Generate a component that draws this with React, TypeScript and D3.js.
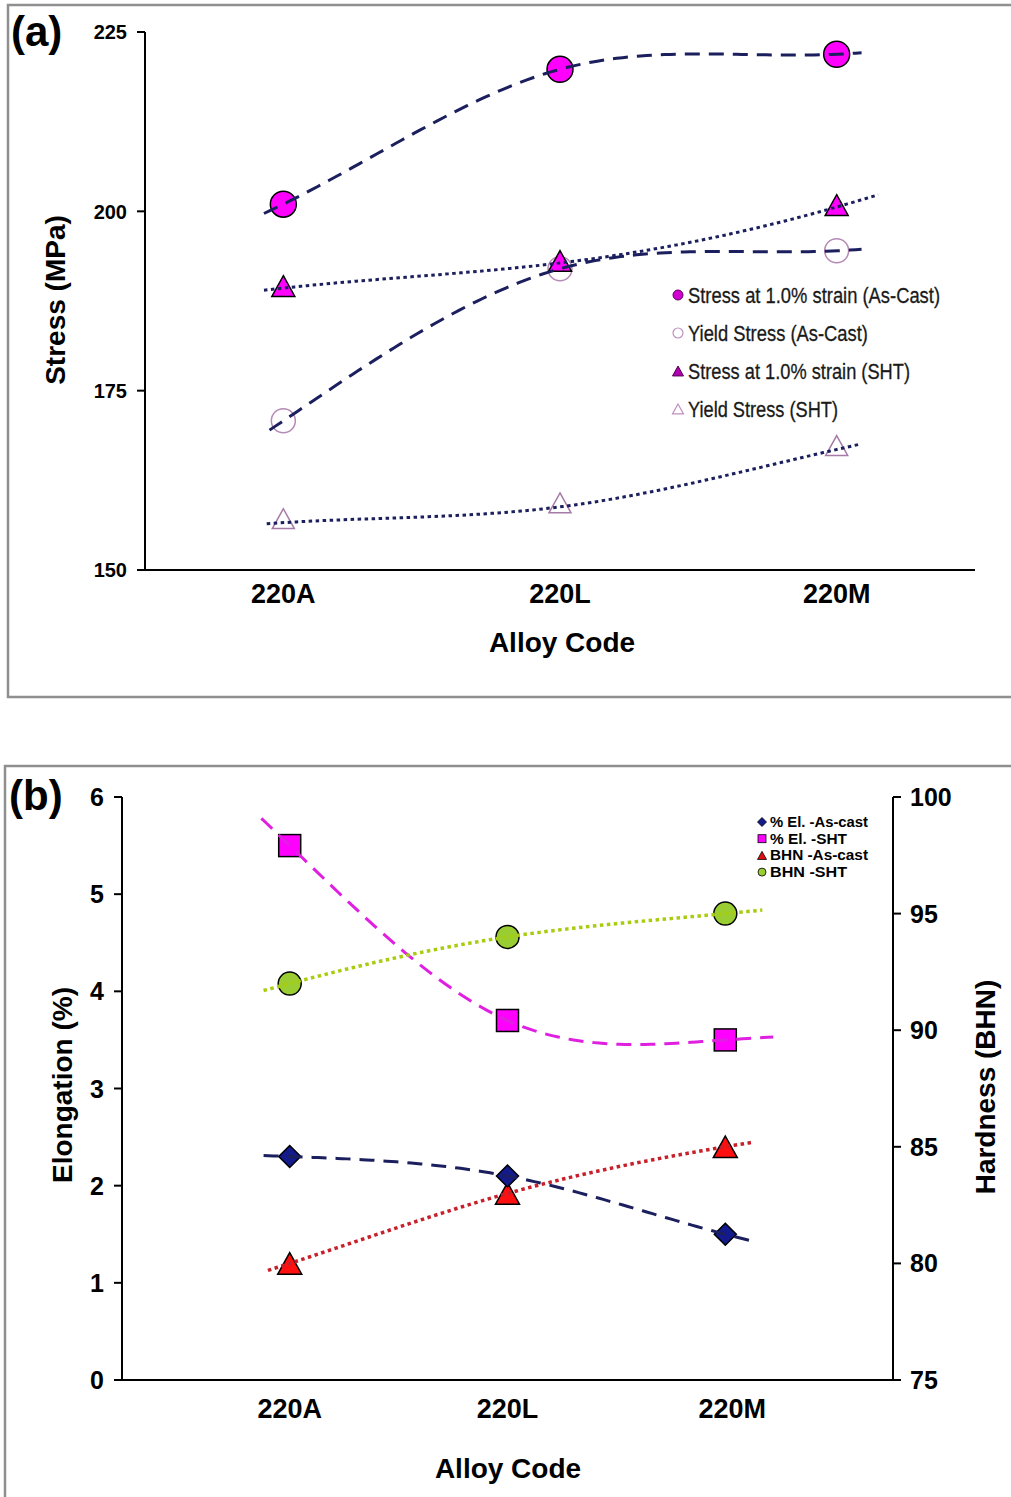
import React from "react";
import * as d3 from "d3";

const categories = ["220A", "220L", "220M"];

// Panel (a) values (MPa)
const stressAsCast = [201, 219.8, 221.9];
const yieldAsCast = [170.8, 192, 194.5];
const stressSHT = [189.3, 192.8, 200.6];
const yieldSHT = [156.6, 158.8, 166.8];
const stressTicks = [150, 175, 200, 225];

// Panel (b) values
const elongAsCast = [2.3, 2.1, 1.5];
const elongSHT = [5.5, 3.7, 3.5];
const bhnAsCast = [80, 83, 85];
const bhnSHT = [92, 94, 95];
const elongTicks = [0, 1, 2, 3, 4, 5, 6];
const hardTicks = [75, 80, 85, 90, 95, 100];

// trendline ends: [startIndex, startValue, endIndex, endValue]
const trendEndsA = [
  [-0.07, 199.7, 2.09, 222.1],
  [-0.05, 169.5, 2.09, 194.7],
  [-0.07, 189.0, 2.15, 202.3],
  [-0.06, 156.45, 2.08, 167.5],
];
const trendEndsB = [
  [-0.12, 2.31, 2.14, 1.42],
  [-0.13, 5.78, 2.22, 3.53],
  [-0.1, 79.7, 2.13, 85.2],
  [-0.12, 91.7, 2.17, 95.15],
];

const legendA = [
  "Stress at 1.0%  strain (As-Cast)",
  "Yield Stress (As-Cast)",
  "Stress at 1.0%  strain (SHT)",
  "Yield Stress (SHT)",
];
const legendB = ["% El. -As-cast", "% El. -SHT", "BHN -As-cast", "BHN -SHT"];

const FONT = "'Liberation Sans', Arial, sans-serif";
const NAVY = "#1b1f5e";

// natural cubic spline y(x) through knots (proper spacing), returns evaluator
function naturalSpline(xs: number[], ys: number[]) {
  const n = xs.length - 1;
  const h = d3.range(n).map((i) => xs[i + 1] - xs[i]);
  const M = new Array(n + 1).fill(0);
  const a: number[] = [], b: number[] = [], c: number[] = [], r: number[] = [];
  for (let i = 1; i < n; i++) {
    a.push(h[i - 1]);
    b.push(2 * (h[i - 1] + h[i]));
    c.push(h[i]);
    r.push(6 * ((ys[i + 1] - ys[i]) / h[i] - (ys[i] - ys[i - 1]) / h[i - 1]));
  }
  const m = b.length;
  for (let i = 1; i < m; i++) {
    const w = a[i] / b[i - 1];
    b[i] -= w * c[i - 1];
    r[i] -= w * r[i - 1];
  }
  const sol = new Array(m).fill(0);
  for (let i = m - 1; i >= 0; i--) sol[i] = (r[i] - (i < m - 1 ? c[i] * sol[i + 1] : 0)) / b[i];
  for (let i = 0; i < m; i++) M[i + 1] = sol[i];
  return (x: number) => {
    let i = 0;
    while (i < n - 1 && x > xs[i + 1]) i++;
    const hi = h[i];
    const A = xs[i + 1] - x;
    const B = x - xs[i];
    return (
      (M[i] * A * A * A) / (6 * hi) +
      (M[i + 1] * B * B * B) / (6 * hi) +
      (ys[i] / hi - (M[i] * hi) / 6) * A +
      (ys[i + 1] / hi - (M[i + 1] * hi) / 6) * B
    );
  };
}

function trendPath(vals: number[], ends: number[], xi: (t: number) => number, y: d3.ScaleLinear<number, number>) {
  const xs = [ends[0], 0, 1, 2, ends[2]];
  const ys = [ends[1], ...vals, ends[3]];
  const f = naturalSpline(xs, ys);
  const ts = d3.range(0, 101).map((k) => ends[0] + ((ends[2] - ends[0]) * k) / 100);
  return d3.line<number>().x((t) => xi(t)).y((t) => y(f(t)))(ts) || "";
}

function tri(cx: number, cy: number, s: number) {
  const hh = s * 0.9;
  return `M${cx},${cy - hh / 2}L${cx + s / 2},${cy + hh / 2}L${cx - s / 2},${cy + hh / 2}Z`;
}

export default function App() {
  // ---------- Panel (a) ----------
  const xA = d3.scalePoint<string>().domain(categories).range([145, 975]).padding(0.5);
  const xiA = (t: number) => (xA(categories[0]) as number) + t * xA.step();
  const yA = d3.scaleLinear().domain([150, 225]).range([570, 32]);

  // ---------- Panel (b) ----------
  const xB = d3.scalePoint<string>().domain(categories).range([122, 893]).padding(0.77);
  const xiB = (t: number) => (xB(categories[0]) as number) + t * xB.step();
  const yL = d3.scaleLinear().domain([0, 6]).range([1380, 797]);
  const yR = d3.scaleLinear().domain([75, 100]).range([1380, 797]);

  const dashed = "15 9";
  const dotted = "3.5 3.5";

  return (
    <svg
      width={1011}
      height={1497}
      style={{ position: "absolute", left: 0, top: 0, background: "#fff" }}
      fontFamily={FONT}
    >
      <rect x={0} y={0} width={1011} height={1497} fill="#fff" />
      {/* Panel frames */}
      <path d="M1015,5H8V697H1015" fill="none" stroke="#8f8f8f" strokeWidth={2.5} />
      <path d="M1015,766H5V1500" fill="none" stroke="#8f8f8f" strokeWidth={2.5} />

      {/* ===== Panel (a) ===== */}
      <text x={11} y={46} fontSize={42} fontWeight="bold">(a)</text>
      <line x1={145} x2={145} y1={yA(225)} y2={yA(150)} stroke="#000" strokeWidth={2} />
      <line x1={137} x2={975} y1={yA(150)} y2={yA(150)} stroke="#000" strokeWidth={2} />
      {stressTicks.map((t) => (
        <g key={t}>
          <line x1={137} x2={145} y1={yA(t)} y2={yA(t)} stroke="#000" strokeWidth={2} />
          <text x={127} y={yA(t)} dy="0.36em" textAnchor="end" fontSize={20} fontWeight="bold">{t}</text>
        </g>
      ))}
      {categories.map((c) => (
        <text key={c} x={xA(c)} y={603} textAnchor="middle" fontSize={27} fontWeight="bold">{c}</text>
      ))}
      <text x={562} y={652} textAnchor="middle" fontSize={28} fontWeight="bold">Alloy Code</text>
      <text transform="translate(65,300) rotate(-90)" textAnchor="middle" fontSize={28} fontWeight="bold">Stress (MPa)</text>

      {/* markers (a) */}
      {stressAsCast.map((v, i) => (
        <circle key={"sa" + i} cx={xA(categories[i])} cy={yA(v)} r={13} fill="#ff00ff" stroke="#000" strokeWidth={1.5} />
      ))}
      {yieldAsCast.map((v, i) => (
        <circle key={"ya" + i} cx={xA(categories[i])} cy={yA(v)} r={12} fill="#fff" stroke="#b58ab5" strokeWidth={1.5} />
      ))}
      {stressSHT.map((v, i) => (
        <path key={"ss" + i} d={tri(xA(categories[i]) as number, yA(v) - 2, 23)} fill="#ff00ff" stroke="#000" strokeWidth={1.5} />
      ))}
      {yieldSHT.map((v, i) => (
        <path key={"ys" + i} d={tri(xA(categories[i]) as number, yA(v) - 4, 22)} fill="#fff" stroke="#a67aa6" strokeWidth={1.5} />
      ))}

      {/* trendlines (a) */}
      <path d={trendPath(stressAsCast, trendEndsA[0], xiA, yA)} fill="none" stroke={NAVY} strokeWidth={3} strokeDasharray={dashed} />
      <path d={trendPath(yieldAsCast, trendEndsA[1], xiA, yA)} fill="none" stroke={NAVY} strokeWidth={3} strokeDasharray={dashed} />
      <path d={trendPath(stressSHT, trendEndsA[2], xiA, yA)} fill="none" stroke={NAVY} strokeWidth={3} strokeDasharray={dotted} />
      <path d={trendPath(yieldSHT, trendEndsA[3], xiA, yA)} fill="none" stroke={NAVY} strokeWidth={3} strokeDasharray={dotted} />

      {/* legend (a) */}
      {legendA.map((t, i) => {
        const cy = 295 + i * 38;
        const widths = [252, 180, 222, 150];
        return (
          <g key={t}>
            {i === 0 && <circle cx={678} cy={cy} r={5} fill="#d000d0" stroke="#600060" strokeWidth={1} />}
            {i === 1 && <circle cx={678} cy={cy} r={5} fill="#fff" stroke="#c090c0" strokeWidth={1.2} />}
            {i === 2 && <path d={tri(678, cy, 11)} fill="#b000b0" stroke="#500050" strokeWidth={1} />}
            {i === 3 && <path d={tri(678, cy, 11)} fill="#fff" stroke="#c090c0" strokeWidth={1.2} />}
            <text x={688} y={cy} dy="0.36em" fontSize={22} textLength={widths[i]} lengthAdjust="spacingAndGlyphs" fill="#1a1a1a" stroke="#1a1a1a" strokeWidth={0.3}>{t}</text>
          </g>
        );
      })}

      {/* ===== Panel (b) ===== */}
      <text x={9} y={810} fontSize={42} fontWeight="bold">(b)</text>
      <line x1={122} x2={122} y1={yL(6)} y2={yL(0)} stroke="#000" strokeWidth={2} />
      <line x1={893} x2={893} y1={yR(100)} y2={yR(75)} stroke="#000" strokeWidth={2} />
      <line x1={114} x2={893} y1={yL(0)} y2={yL(0)} stroke="#000" strokeWidth={2} />
      {elongTicks.map((t) => (
        <g key={"l" + t}>
          <line x1={114} x2={122} y1={yL(t)} y2={yL(t)} stroke="#000" strokeWidth={2} />
          <text x={104} y={yL(t)} dy="0.36em" textAnchor="end" fontSize={25} fontWeight="bold">{t}</text>
        </g>
      ))}
      {hardTicks.map((t) => (
        <g key={"r" + t}>
          <line x1={893} x2={901} y1={yR(t)} y2={yR(t)} stroke="#000" strokeWidth={2} />
          <text x={910} y={yR(t)} dy="0.36em" textAnchor="start" fontSize={25} fontWeight="bold">{t}</text>
        </g>
      ))}
      {categories.map((c) => (
        <text key={"b" + c} x={(xB(c) as number) + (c === "220M" ? 7 : 0)} y={1418} textAnchor="middle" fontSize={27} fontWeight="bold">{c}</text>
      ))}
      <text x={508} y={1478} textAnchor="middle" fontSize={28} fontWeight="bold">Alloy Code</text>
      <text transform="translate(72,1085) rotate(-90)" textAnchor="middle" fontSize={28} fontWeight="bold">Elongation (%)</text>
      <text transform="translate(995,1087) rotate(-90)" textAnchor="middle" fontSize={28} fontWeight="bold">Hardness (BHN)</text>

      {/* markers (b) */}
      {elongSHT.map((v, i) => (
        <rect key={"es" + i} x={(xB(categories[i]) as number) - 11} y={yL(v) - 11} width={22} height={22} fill="#ff00ff" stroke="#000" strokeWidth={1.5} />
      ))}
      {bhnSHT.map((v, i) => (
        <circle key={"bs" + i} cx={xB(categories[i])} cy={yR(v)} r={11.5} fill="#9acd32" stroke="#000" strokeWidth={1.5} />
      ))}
      {bhnAsCast.map((v, i) => (
        <path key={"ba" + i} d={tri(xB(categories[i]) as number, yR(v), 24)} fill="#ff1010" stroke="#000" strokeWidth={1.5} />
      ))}
      {elongAsCast.map((v, i) => {
        const cx = xB(categories[i]) as number;
        const cy = yL(v);
        return (
          <path key={"ea" + i} d={`M${cx},${cy - 11}L${cx + 11},${cy}L${cx},${cy + 11}L${cx - 11},${cy}Z`} fill="#121a8c" stroke="#000" strokeWidth={1.5} />
        );
      })}

      {/* trendlines (b) */}
      <path d={trendPath(elongAsCast, trendEndsB[0], xiB, yL)} fill="none" stroke={NAVY} strokeWidth={3} strokeDasharray={dashed} />
      <path d={trendPath(elongSHT, trendEndsB[1], xiB, yL)} fill="none" stroke="#e020e0" strokeWidth={3} strokeDasharray={dashed} />
      <path d={trendPath(bhnAsCast, trendEndsB[2], xiB, yR)} fill="none" stroke="#c8202a" strokeWidth={3.5} strokeDasharray={dotted} />
      <path d={trendPath(bhnSHT, trendEndsB[3], xiB, yR)} fill="none" stroke="#a8cc10" strokeWidth={3.5} strokeDasharray={dotted} />

      {/* legend (b) */}
      {legendB.map((t, i) => {
        const cy = 822 + i * 16.7;
        const widths = [98, 77, 98, 77];
        return (
          <g key={t}>
            {i === 0 && <path d={`M762,${cy - 4.5}L766.5,${cy}L762,${cy + 4.5}L757.5,${cy}Z`} fill="#121a8c" stroke="#000" strokeWidth={0.8} />}
            {i === 1 && <rect x={758} y={cy - 4} width={8} height={8} fill="#ff00ff" stroke="#000" strokeWidth={0.8} />}
            {i === 2 && <path d={tri(762, cy, 9)} fill="#e01010" stroke="#000" strokeWidth={0.8} />}
            {i === 3 && <circle cx={762} cy={cy} r={4} fill="#9acd32" stroke="#000" strokeWidth={0.8} />}
            <text x={770} y={cy} dy="0.36em" fontSize={14} fontWeight="bold" textLength={widths[i]} lengthAdjust="spacingAndGlyphs">{t}</text>
          </g>
        );
      })}
    </svg>
  );
}
